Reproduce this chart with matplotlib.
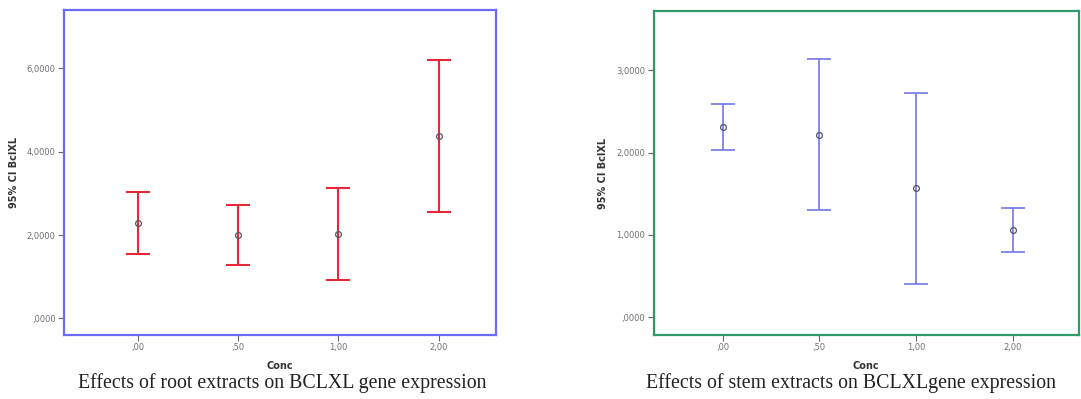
"""Recreate the BCLXL 95% CI error-bar panels (root and stem extracts)."""
import matplotlib.pyplot as plt

# data
conc_labels = [",00", ",50", "1,00", "2,00"]

root_mean = [2.29, 1.99, 2.02, 4.38]
root_low = [1.55, 1.28, 0.92, 2.56]
root_high = [3.03, 2.71, 3.13, 6.19]

stem_mean = [2.31, 2.22, 1.57, 1.06]
stem_low = [2.03, 1.30, 0.41, 0.79]
stem_high = [2.59, 3.14, 2.72, 1.33]

root_ticks = [0, 2, 4, 6]
stem_ticks = [0, 1, 2, 3]


def draw_panel(ax, mean, low, high, bar_color, frame_color, yticks, ylim, xlim, lw, ylabel_x):
    x = list(range(len(mean)))
    yerr = [[m - lo for m, lo in zip(mean, low)], [hi - m for m, hi in zip(mean, high)]]
    ax.errorbar(x, mean, yerr=yerr, fmt="none", ecolor=bar_color,
                elinewidth=lw, capsize=8.6, capthick=lw)
    ax.plot(x, mean, "o", ms=4.2, mfc="none", mec="#555566", mew=0.9)

    ax.set_xlim(*xlim)
    ax.set_ylim(*ylim)
    ax.set_xticks(x)
    ax.set_xticklabels(conc_labels)
    ax.set_yticks(yticks)
    ax.set_yticklabels([f"{t},0000" if t else ",0000" for t in yticks])
    ax.tick_params(axis="both", direction="out", length=4, width=0.8,
                   color="#666666", labelcolor="#707070", labelsize=6, pad=2)

    for side in ax.spines.values():
        side.set_color(frame_color)
        side.set_linewidth(1.6)

    ax.set_xlabel("Conc", fontsize=7, fontweight="bold", color="#333333", labelpad=6)
    ax.set_ylabel("95% CI BclXL", fontsize=7, fontweight="bold", color="#333333")
    ax.yaxis.set_label_coords(ylabel_x, 0.5)


fig = plt.figure(figsize=(10.81, 3.99), dpi=100)

ax_root = fig.add_axes([64 / 1081, 1 - 335 / 399, (496 - 64) / 1081, (335 - 10) / 399])
ax_stem = fig.add_axes([653.5 / 1081, 1 - 335 / 399, (1079 - 653.5) / 1081, (335 - 11) / 399])

draw_panel(ax_root, root_mean, root_low, root_high, "#e8283a", "#6b6bf5",
           root_ticks, (-0.40, 7.40), (-0.735, 3.57), 1.5, (19 - 64) / 432)
draw_panel(ax_stem, stem_mean, stem_low, stem_high, "#7474e6", "#2f9a6a",
           stem_ticks, (-0.215, 3.72), (-0.716, 3.686), 1.2, (608 - 653.5) / 425.5)

caption_font = dict(family="Liberation Serif", fontsize=14.3, color="#222222",
                    ha="center", va="center")
fig.text(282 / 1081, 1 - 383 / 399, "Effects of root extracts on BCLXL gene expression",
         **caption_font)
fig.text(851 / 1081, 1 - 383 / 399, "Effects of stem extracts on BCLXLgene expression",
         **caption_font)

fig.savefig("out.png", dpi=100)
plt.close(fig)
